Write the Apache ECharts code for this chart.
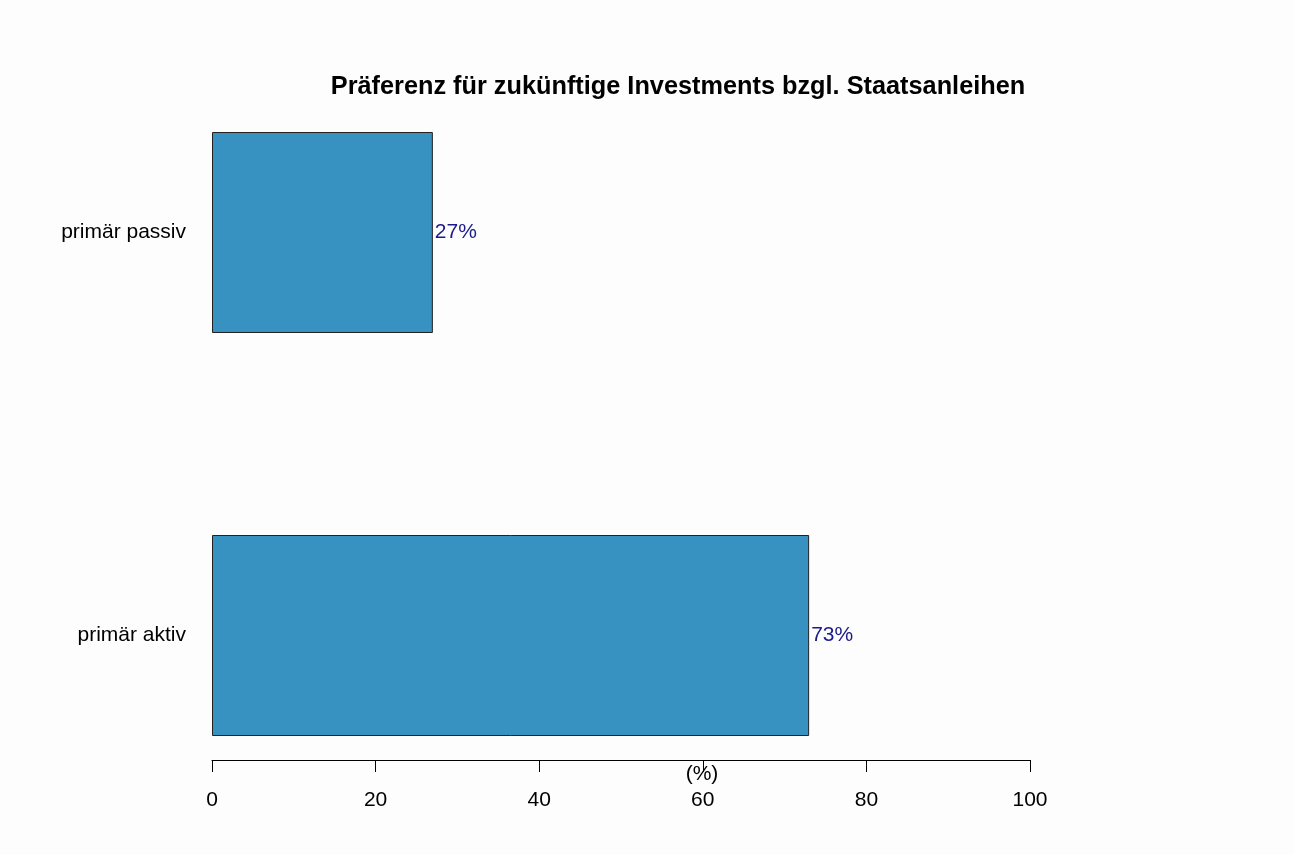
<!DOCTYPE html>
<html>
<head>
<meta charset="utf-8">
<script src="https://cdn.jsdelivr.net/npm/echarts@6/dist/echarts.min.js"></script>
<style>
html,body{margin:0;padding:0;background:#fdfdfd;}
#chart{width:1294px;height:855px;}
</style>
</head>
<body>
<div id="chart"></div>
<script>
const categories = ["primär aktiv", "primär passiv"];
const values = [73, 27];
const xTicks = [0, 20, 40, 60, 80, 100];
const titleText = "Präferenz für zukünftige Investments bzgl. Staatsanleihen";
const axisName = "(%)";

const chart = echarts.init(document.getElementById('chart'), null, {renderer: 'canvas'});
const FONT = '"Liberation Sans", Arial, Helvetica, sans-serif';
chart.setOption({
  backgroundColor: '#fdfdfd',
  animation: false,
  title: {
    text: titleText,
    left: 673, top: 70, textAlign: 'center',
    textStyle: {fontFamily: FONT, fontWeight: 'bold', fontSize: 25.3, color: '#000'}
  },
  grid: {left: 212, right: 264, top: 31, bottom: 18, containLabel: false},
  xAxis: {
    type: 'value', min: xTicks[0], max: xTicks[xTicks.length - 1], interval: 20,
    offset: -77,
    axisLine: {show: true, lineStyle: {color: '#000', width: 1}},
    axisTick: {show: true, length: 12, lineStyle: {color: '#000'}},
    splitLine: {show: false},
    axisLabel: {fontFamily: FONT, fontSize: 21, color: '#000', margin: 30}
  },
  yAxis: {
    type: 'category', data: categories,
    axisLine: {show: false}, axisTick: {show: false},
    axisLabel: {fontFamily: FONT, fontSize: 21, color: '#000', margin: 26}
  },
  graphic: [{
    type: 'text', x: 702, y: 774,
    style: {text: axisName, font: '21px "Liberation Sans", Arial, sans-serif', fill: '#000', align: 'center', verticalAlign: 'middle'}
  }],
  series: [{
    type: 'bar', data: values, barWidth: 201,
    itemStyle: {color: '#3791c1', borderColor: '#222', borderWidth: 1},
    label: {show: true, position: 'right', distance: 2, formatter: '{c}%',
      fontFamily: FONT, fontSize: 21, color: '#1a1a8a'}
  }]
});
</script>
</body>
</html>
